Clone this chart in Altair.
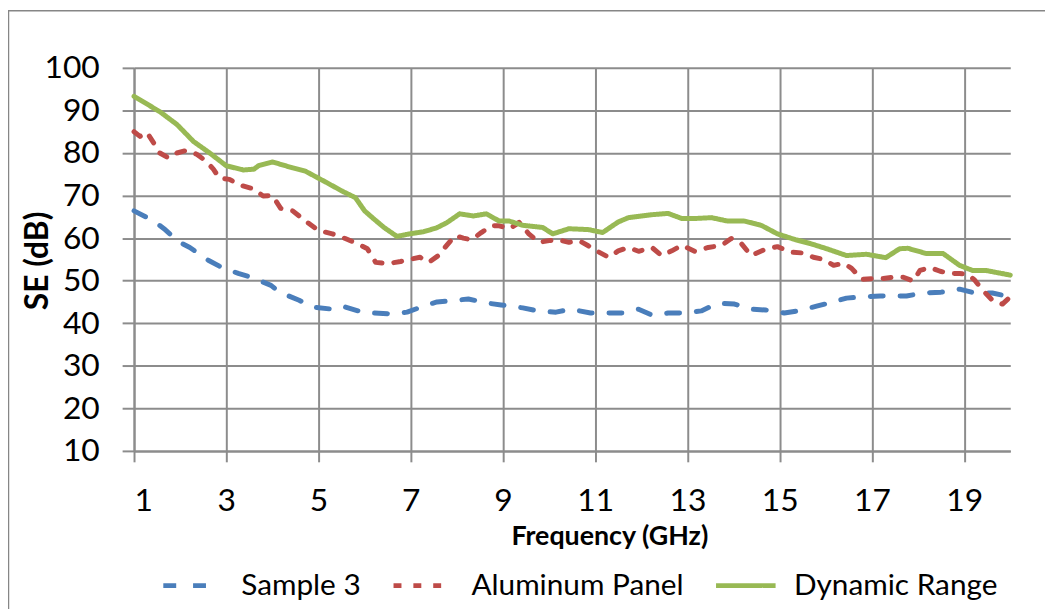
import altair as alt
import pandas as pd

series_names = ["Sample 3", "Aluminum Panel", "Dynamic Range"]
series_colors = ["#4A7EBB", "#BE4B48", "#98B954"]

sample3_f = [1.0, 1.43, 1.65, 1.99, 2.21, 2.61, 2.85, 3.26, 3.54, 3.97, 4.15, 4.58, 4.87, 5.3, 5.52,
             5.95, 6.17, 6.6, 6.92, 7.35, 7.57, 7.99, 8.25, 8.68, 8.96, 9.43, 9.76, 10.15, 10.47, 10.9,
             11.22, 11.58, 11.94, 12.23, 12.58, 12.94, 13.3, 13.66, 14.02, 14.38, 14.7, 15.1, 15.4,
             15.8, 16.06, 16.45, 16.82, 17.18, 17.75, 18.11, 18.5, 18.9, 19.23, 19.61, 20.0]
sample3_v = [66.4, 64.0, 62.2, 59.0, 57.8, 54.8, 53.4, 51.7, 50.8, 48.9, 47.3, 45.4, 43.8, 43.3, 44.0,
             42.6, 42.4, 42.2, 42.6, 44.3, 45.0, 45.4, 45.7, 44.7, 44.3, 43.6, 42.9, 42.6, 43.3, 42.4,
             42.4, 42.4, 43.3, 41.9, 42.4, 42.4, 42.9, 44.7, 44.5, 43.3, 43.1, 42.4, 42.9,
             44.0, 44.7, 45.9, 46.2, 46.4, 46.4, 47.1, 47.3, 48.0, 47.1, 47.1, 46.2]

alu_f = [1.0, 1.13, 1.28, 1.43, 1.56, 1.75, 1.93, 2.14, 2.36, 2.57, 2.72, 2.85, 3.07, 3.28, 3.58, 3.8,
         4.0, 4.18, 4.44, 4.72, 5.0, 5.3, 5.58, 5.84, 6.06, 6.24, 6.5, 6.78, 6.98, 7.2, 7.39, 7.6, 7.78,
         7.96, 8.14, 8.32, 8.53, 8.75, 8.92, 9.14, 9.35, 9.56, 9.78, 10.0, 10.2, 10.43, 10.65, 10.85,
         11.08, 11.29, 11.5, 11.72, 11.94, 12.23, 12.44, 12.66, 12.88, 13.16, 13.45, 13.74, 13.95,
         14.17, 14.38, 14.67, 14.95, 15.24, 15.5, 15.73, 15.95, 16.17, 16.39, 16.56, 16.78, 17.03,
         17.25, 17.46, 17.68, 17.9, 18.04, 18.26, 18.48, 18.69, 18.9, 19.08, 19.23, 19.4, 19.61,
         19.83, 20.0]
alu_v = [85.0, 83.9, 84.8, 82.3, 80.0, 78.8, 80.0, 80.6, 79.7, 78.0, 76.2, 74.1, 73.8, 72.5, 71.6, 69.9,
         70.0, 67.0, 66.4, 64.0, 61.8, 61.0, 59.9, 58.7, 57.5, 54.3, 54.0, 54.5, 55.0, 55.5, 54.3, 55.9,
         58.3, 60.6, 60.0, 59.6, 61.3, 62.9, 62.9, 62.2, 63.7, 61.0, 59.0, 59.4, 59.6, 59.0, 59.4, 58.2,
         56.7, 55.5, 57.0, 57.8, 56.9, 57.8, 55.9, 57.0, 58.3, 56.9, 57.8, 58.3, 59.9,
         58.7, 55.9, 57.3, 58.0, 56.7, 56.5, 55.5, 55.0, 53.6, 54.1, 52.9, 50.3, 50.5,
         50.5, 50.8, 50.8, 49.9, 52.4, 53.1, 52.2, 51.7, 51.7, 51.5, 50.1, 47.8, 45.4,
         44.5, 46.2]

dyn_f = [1.0, 1.56, 1.93, 2.29, 2.64, 3.0, 3.37, 3.6, 3.7, 4.0, 4.44, 4.72, 5.15, 5.52, 5.8, 6.0, 6.2,
         6.42, 6.7, 6.98, 7.28, 7.56, 7.78, 8.06, 8.36, 8.64, 8.92, 9.14, 9.43, 9.86, 10.08, 10.43,
         10.85, 11.16, 11.5, 11.72, 12.23, 12.58, 12.88, 13.16, 13.52, 13.87, 14.23, 14.6, 14.95,
         15.35, 15.67, 16.02, 16.45, 16.88, 17.3, 17.6, 17.78, 18.17, 18.54, 18.9, 19.18, 19.47, 20.0]
dyn_v = [93.3, 89.7, 86.7, 82.7, 80.0, 77.0, 76.0, 76.2, 77.0, 77.9, 76.5, 75.7, 73.2, 71.0, 69.5, 66.4,
         64.5, 62.5, 60.4, 61.0, 61.5, 62.4, 63.6, 65.7, 65.2, 65.7, 64.0, 64.0, 63.0, 62.5, 61.0, 62.2,
         62.0, 61.3, 63.8, 64.8, 65.5, 65.8, 64.6, 64.6, 64.8, 64.0, 64.0, 63.0, 61.0,
         59.6, 58.7, 57.5, 55.9, 56.2, 55.4, 57.5, 57.6, 56.4, 56.4, 53.6, 52.4, 52.4, 51.3]

x_ticks = [1, 3, 5, 7, 9, 11, 13, 15, 17, 19]
y_ticks = [10, 20, 30, 40, 50, 60, 70, 80, 90, 100]

rows = []
for name, fs, vs in zip(series_names, [sample3_f, alu_f, dyn_f], [sample3_v, alu_v, dyn_v]):
    for i, (f, v) in enumerate(zip(fs, vs)):
        rows.append({"Series": name, "Frequency": f, "SE": v, "order": i})
df = pd.DataFrame(rows)

FONT = "Lato"
GRID = "#8c8c8c"

legend_opts = dict(title=None, orient="none", legendX=27, legendY=489,
                   direction="horizontal", symbolType="stroke",
                   symbolSize=3600, symbolStrokeWidth=5,
                   labelFont=FONT, labelFontSize=30, labelColor="black",
                   labelOffset=16, columnPadding=22, labelLimit=400, padding=0)

lines = alt.Chart(df).mark_line(strokeWidth=5, strokeCap="round", strokeJoin="round").encode(
    x=alt.X("Frequency:Q",
            scale=alt.Scale(domain=[1, 20], nice=False, zero=False),
            axis=alt.Axis(values=x_ticks, title="Frequency (GHz)", grid=True,
                          labelFontSize=32, labelFont=FONT, labelColor="black",
                          labelBaseline="alphabetic", labelPadding=49, tickSize=11,
                          titleFont=FONT, titleFontSize=27, titleFontWeight="bold",
                          titleColor="black", titleX=479, titleY=94,
                          titleBaseline="alphabetic", titleAlign="center")),
    y=alt.Y("SE:Q",
            scale=alt.Scale(domain=[10, 100], nice=False, zero=False),
            axis=alt.Axis(values=y_ticks, title="SE (dB)", grid=True,
                          labelFontSize=32, labelFont=FONT, labelColor="black",
                          labelPadding=23, tickSize=12,
                          titleFont=FONT, titleFontSize=32, titleFontWeight="bold",
                          titleColor="black", titleX=-87, titleY=194, titleAngle=270,
                          titleBaseline="alphabetic", titleAlign="center")),
    color=alt.Color("Series:N",
                    scale=alt.Scale(domain=series_names, range=series_colors),
                    legend=alt.Legend(**legend_opts)),
    strokeDash=alt.StrokeDash("Series:N",
                              scale=alt.Scale(domain=series_names,
                                              range=[[13, 17], [8, 12], [1, 0]]),
                              legend=alt.Legend(**legend_opts)),
    order="order:Q",
)

frame = alt.Chart(alt.Data(values=[{"a": 1}])).mark_rect(
    fill="transparent", stroke="#868686", strokeWidth=1.5, clip=False
).encode(x=alt.value(-126.5), x2=alt.value(1100), y=alt.value(-57.5), y2=alt.value(800))

chart = alt.layer(frame, lines).properties(
    width=883, height=386,
    autosize=alt.AutoSizeParams(type="none"),
    padding={"left": 127, "top": 58, "right": 35, "bottom": 157},
).configure_view(strokeWidth=0).configure_axis(
    gridColor=GRID, gridWidth=2, domainColor=GRID, domainWidth=2,
    tickColor=GRID, tickWidth=2,
)

chart.save("out.html", embed_options={"renderer": "svg", "actions": False})
